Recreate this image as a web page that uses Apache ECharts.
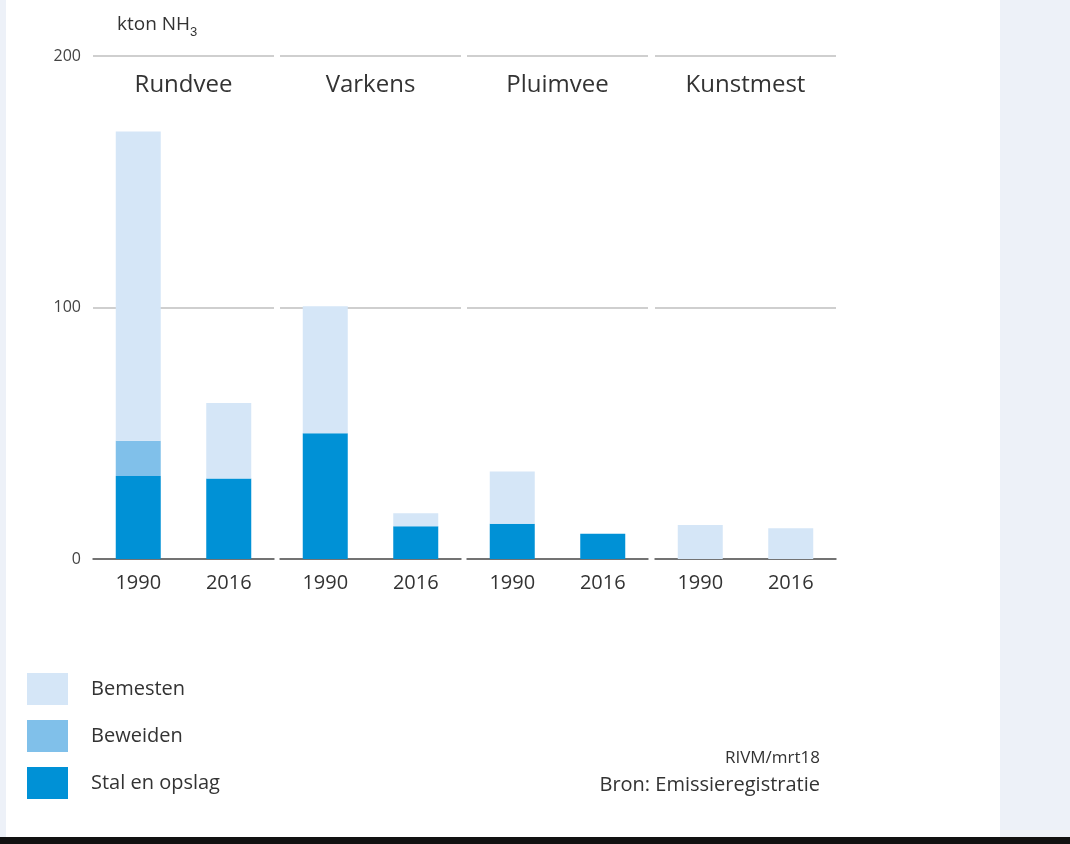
<!DOCTYPE html>
<html>
<head>
<meta charset="utf-8">
<script src="https://cdn.jsdelivr.net/npm/echarts@6/dist/echarts.min.js"></script>
<style>
  html, body { margin: 0; padding: 0; background: #fff; }
  #chart { width: 1070px; height: 844px; }
</style>
</head>
<body>
<div id="chart"></div>
<script>
var groups = ['Rundvee', 'Varkens', 'Pluimvee', 'Kunstmest'];
var years = ['1990', '2016'];
var yTicks = [0, 100, 200];

// kton NH3 per group, [1990, 2016]
var stal = [[33, 32], [50, 13], [14, 10], [0, 0]];
var beweiden = [[14, 0], [0, 0], [0, 0], [0, 0]];
var bemesten = [[123, 30], [50.5, 5.2], [20.8, 0], [13.5, 12.2]];

var colStal = '#0091d6';
var colBeweiden = '#80c0ea';
var colBemesten = '#d5e6f7';
var font = 'Open Sans';

var gridLefts = [93, 280, 467, 655];
var grids = [], xAxes = [], yAxes = [], series = [];

gridLefts.forEach(function (left, i) {
    grids.push({ left: left, width: 181, top: 56, bottom: 285 });
    xAxes.push({
        type: 'category', gridIndex: i, data: years,
        axisLine: { lineStyle: { color: '#555', width: 1.5 } },
        axisTick: { show: false },
        axisLabel: { color: '#333', fontSize: 20, fontFamily: font, margin: 14 }
    });
    yAxes.push({
        type: 'value', gridIndex: i, min: yTicks[0], max: yTicks[2], interval: 100,
        axisLine: { show: false }, axisTick: { show: false },
        axisLabel: { show: i === 0, color: '#444', fontSize: 16, fontFamily: font, margin: 12 },
        splitLine: { lineStyle: { color: '#cfcfcf', width: 2 } }
    });
    [['Stal en opslag', stal, colStal], ['Beweiden', beweiden, colBeweiden], ['Bemesten', bemesten, colBemesten]]
        .forEach(function (s) {
            series.push({
                name: s[0], type: 'bar', stack: 'g' + i,
                xAxisIndex: i, yAxisIndex: i,
                barWidth: 45,
                itemStyle: { color: s[2] },
                data: s[1][i]
            });
        });
});

// group names above each panel
var titles = groups.map(function (g, i) {
    return {
        type: 'text', x: gridLefts[i] + 90.5, y: 73,
        style: { text: g, fill: '#333', font: '24px "' + font + '"', align: 'center' }
    };
});

var option = {
    backgroundColor: '#fff',
    animation: false,
    grid: grids,
    xAxis: xAxes,
    yAxis: yAxes,
    legend: {
        orient: 'vertical', left: 27, top: 673, padding: 0,
        data: ['Bemesten', 'Beweiden', 'Stal en opslag'],
        itemWidth: 41, itemHeight: 32, itemGap: 15, icon: 'rect',
        textStyle: { color: '#333', fontSize: 20, fontFamily: font, padding: [0, 0, 0, 18] }
    },
    graphic: [
        { type: 'rect', shape: { x: 0, y: 0, width: 6, height: 844 }, style: { fill: '#edf1f8' } },
        { type: 'rect', shape: { x: 1000, y: 0, width: 70, height: 844 }, style: { fill: '#edf1f8' } },
        { type: 'rect', shape: { x: 0, y: 837, width: 1070, height: 7 }, style: { fill: '#111' } },
        {
            type: 'text', x: 117, y: 10,
            style: {
                text: 'kton NH{s|3}', fill: '#333', font: '19px "' + font + '"',
                rich: { s: { fontSize: 13, padding: [16, 0, 0, 0], fill: '#333' } }
            }
        },
        {
            type: 'text', x: 820, y: 750,
            style: { text: 'RIVM/mrt18', fill: '#333', font: '17px "' + font + '"', align: 'right' }
        },
        {
            type: 'text', x: 820, y: 775,
            style: { text: 'Bron: Emissieregistratie', fill: '#333', font: '20px "' + font + '"', align: 'right' }
        }
    ].concat(titles),
    series: series
};

var chart = echarts.init(document.getElementById('chart'));
chart.setOption(option);
</script>
</body>
</html>
